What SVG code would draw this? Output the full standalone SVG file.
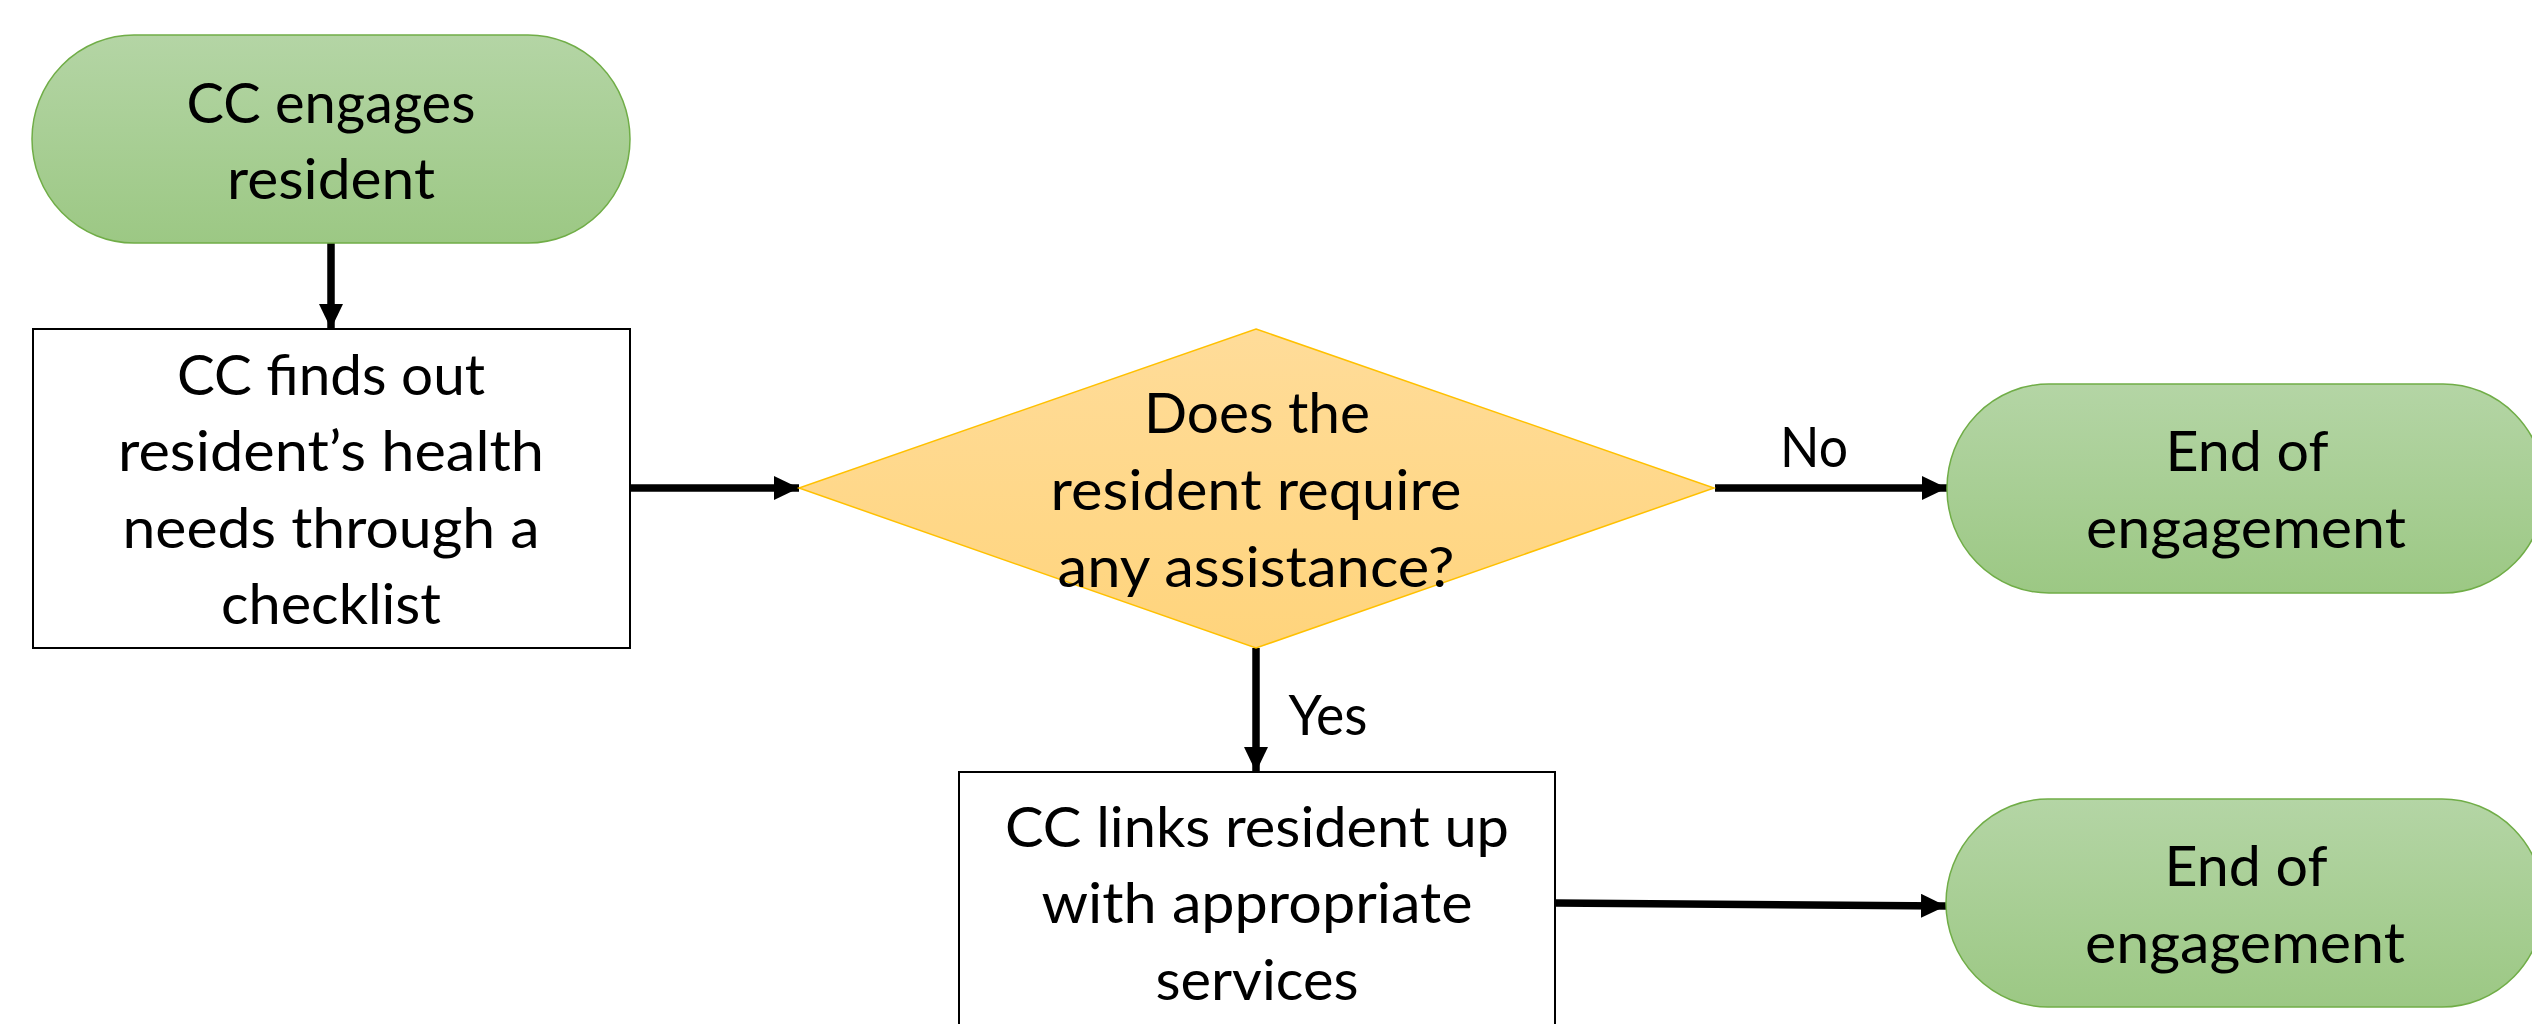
<svg xmlns="http://www.w3.org/2000/svg" width="2532" height="1024" viewBox="0 0 2532 1024">
  <defs>
    <linearGradient id="gGreen" x1="0" y1="0" x2="0" y2="1">
      <stop offset="0" stop-color="#B4D5A5"/>
      <stop offset="1" stop-color="#9CC884"/>
    </linearGradient>
    <linearGradient id="gGold" x1="0" y1="0" x2="0" y2="1">
      <stop offset="0" stop-color="#FFDC99"/>
      <stop offset="1" stop-color="#FFD47C"/>
    </linearGradient>
    <marker id="arrow" markerUnits="userSpaceOnUse" markerWidth="26" markerHeight="26" refX="25" refY="12" orient="auto">
      <path d="M0,0 L25,12 L0,24 Z" fill="#000"/>
    </marker>
    <style>
      .pill { fill: url(#gGreen); stroke: #70AD47; stroke-width: 1.5; }
      .box { fill: #fff; stroke: #000; stroke-width: 2; }
      .dia { fill: url(#gGold); stroke: #FFC000; stroke-width: 1.5; }
      .t { font-family: Lato, "Liberation Sans", sans-serif; font-size: 57px; fill: #000; text-anchor: middle; }
      .c { fill: none; stroke: #000; stroke-width: 7.5; marker-end: url(#arrow); }
    </style>
  </defs>
  <rect width="2532" height="1024" fill="#fff"/>

  <g id="connectors">
    <line class="c" x1="331" y1="243" x2="331" y2="329"/>
    <line class="c" x1="630" y1="488" x2="799" y2="488"/>
    <line class="c" x1="1715" y1="488" x2="1947" y2="488"/>
    <line class="c" x1="1256" y1="648" x2="1256" y2="772"/>
    <line class="c" x1="1555" y1="903" x2="1946" y2="906"/>
    <text class="t" x="1814" y="467" textLength="68" lengthAdjust="spacingAndGlyphs">No</text>
    <text class="t" x="1328" y="735" textLength="79" lengthAdjust="spacingAndGlyphs">Yes</text>
  </g>

  <g id="start">
    <rect class="pill" x="32" y="35" width="598" height="208" rx="102" ry="104"/>
    <text class="t" x="331" y="123" textLength="289" lengthAdjust="spacingAndGlyphs">CC engages</text>
    <text class="t" x="331" y="199" textLength="208" lengthAdjust="spacingAndGlyphs">resident</text>
  </g>

  <g id="checklist">
    <rect class="box" x="33" y="329" width="597" height="319"/>
    <text class="t" x="331" y="395" textLength="308" lengthAdjust="spacingAndGlyphs">CC finds out</text>
    <text class="t" x="331" y="471" textLength="426" lengthAdjust="spacingAndGlyphs">resident’s health</text>
    <text class="t" x="331" y="548" textLength="417" lengthAdjust="spacingAndGlyphs">needs through a</text>
    <text class="t" x="331" y="624" textLength="220" lengthAdjust="spacingAndGlyphs">checklist</text>
  </g>

  <g id="decision">
    <polygon class="dia" points="1256,329 1714,488 1256,648 799,488"/>
    <text class="t" x="1257" y="433" textLength="226" lengthAdjust="spacingAndGlyphs">Does the</text>
    <text class="t" x="1256" y="510" textLength="411" lengthAdjust="spacingAndGlyphs">resident require</text>
    <text class="t" x="1256" y="587" textLength="397" lengthAdjust="spacingAndGlyphs">any assistance?</text>
  </g>

  <g id="end1">
    <rect class="pill" x="1947" y="384" width="598" height="209" rx="102" ry="104"/>
    <text class="t" x="2247" y="471" textLength="163" lengthAdjust="spacingAndGlyphs">End of</text>
    <text class="t" x="2246" y="548" textLength="320" lengthAdjust="spacingAndGlyphs">engagement</text>
  </g>

  <g id="link">
    <rect class="box" x="959" y="772" width="596" height="262"/>
    <text class="t" x="1257" y="847" textLength="504" lengthAdjust="spacingAndGlyphs">CC links resident up</text>
    <text class="t" x="1257" y="923" textLength="431" lengthAdjust="spacingAndGlyphs">with appropriate</text>
    <text class="t" x="1257" y="1000" textLength="203" lengthAdjust="spacingAndGlyphs">services</text>
  </g>

  <g id="end2">
    <rect class="pill" x="1946" y="799" width="598" height="208" rx="102" ry="104"/>
    <text class="t" x="2246" y="886" textLength="163" lengthAdjust="spacingAndGlyphs">End of</text>
    <text class="t" x="2245" y="963" textLength="320" lengthAdjust="spacingAndGlyphs">engagement</text>
  </g>
</svg>
